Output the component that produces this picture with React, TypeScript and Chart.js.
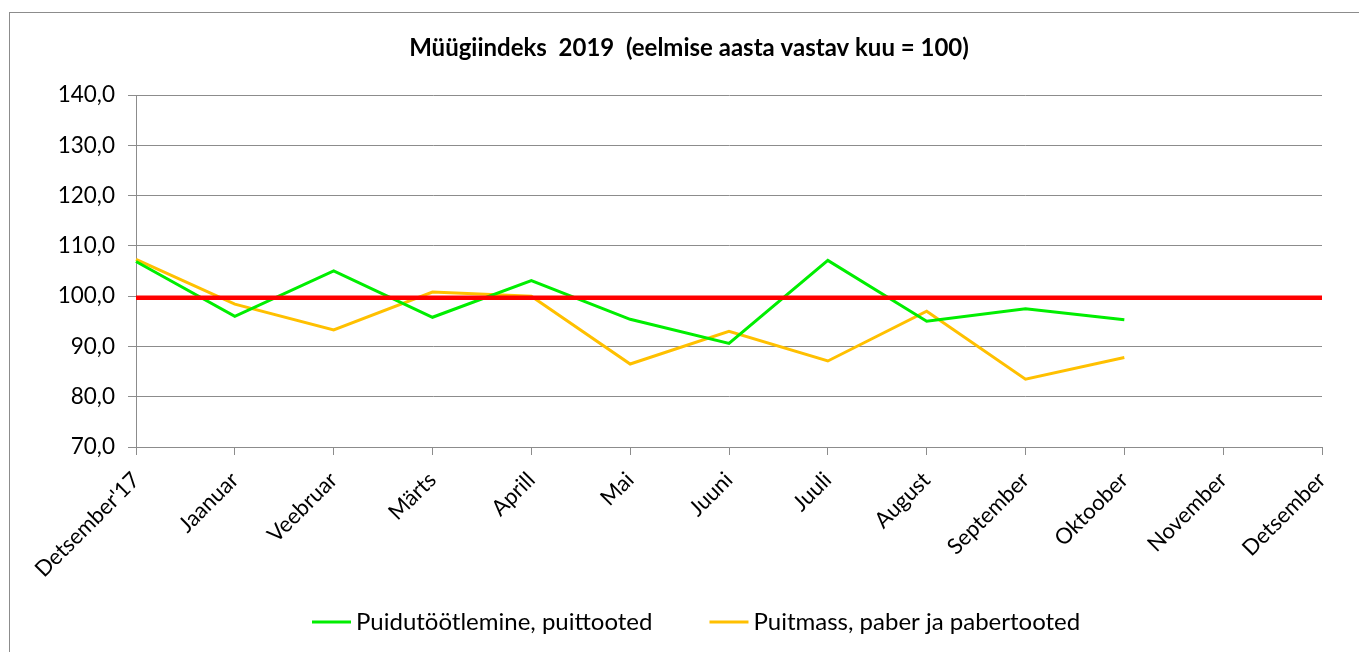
import { useEffect, useRef } from "react";
import { Chart, registerables } from "chart.js";

Chart.register(...registerables);

const TITLE = "Müügiindeks  2019  (eelmise aasta vastav kuu = 100)";
const CATEGORIES = [
  "Detsember'17",
  "Jaanuar",
  "Veebruar",
  "Märts",
  "Aprill",
  "Mai",
  "Juuni",
  "Juuli",
  "August",
  "September",
  "Oktoober",
  "November",
  "Detsember",
];
const LABEL_GREEN = "Puidutöötlemine, puittooted";
const LABEL_ORANGE = "Puitmass, paber ja pabertooted";
const VALUES_GREEN = [106.9, 96.0, 105.0, 95.8, 103.1, 95.4, 90.6, 107.1, 95.0, 97.5, 95.3, null, null];
const VALUES_ORANGE = [107.3, 98.4, 93.3, 100.8, 100.0, 86.5, 93.0, 87.1, 97.0, 83.5, 87.8, null, null];
const VALUES_BASE = [99.7, 99.7, 99.7, 99.7, 99.7, 99.7, 99.7, 99.7, 99.7, 99.7, 99.7, 99.7, 99.7];
const Y_MIN = 70;
const Y_MAX = 140;
const Y_STEP = 10;

const FONT = "Lato";
const GRID = "#8c8c8c";

export default function App() {
  const ref = useRef<HTMLCanvasElement | null>(null);

  useEffect(() => {
    if (!ref.current) return;

    const legendPlugin = {
      id: "customLegend",
      afterDraw(chart: any) {
        const ctx = chart.ctx as CanvasRenderingContext2D;
        ctx.save();
        ctx.font = `24px ${FONT}`;
        ctx.textBaseline = "middle";
        ctx.textAlign = "left";
        let x = 312;
        const y = 622;
        chart.data.datasets.forEach((ds: any) => {
          if (!ds.label) return;
          ctx.strokeStyle = ds.borderColor;
          ctx.lineWidth = 3;
          ctx.beginPath();
          ctx.moveTo(x, y);
          ctx.lineTo(x + 39, y);
          ctx.stroke();
          ctx.fillStyle = "#000";
          ctx.fillText(ds.label, x + 44, y);
          x += 44 + ctx.measureText(ds.label).width + 57;
        });
        ctx.restore();
      },
    };

    const chart = new Chart(ref.current, {
      type: "line",
      data: {
        labels: CATEGORIES,
        datasets: [
          {
            label: "",
            data: VALUES_BASE,
            borderColor: "#ff0000",
            backgroundColor: "#ff0000",
            borderWidth: 4.5,
            pointRadius: 0,
            tension: 0,
          },
          {
            label: LABEL_GREEN,
            data: VALUES_GREEN,
            borderColor: "#00ee00",
            backgroundColor: "#00ee00",
            borderWidth: 3,
            pointRadius: 0,
            tension: 0,
          },
          {
            label: LABEL_ORANGE,
            data: VALUES_ORANGE,
            borderColor: "#ffc000",
            backgroundColor: "#ffc000",
            borderWidth: 3,
            pointRadius: 0,
            tension: 0,
          },
        ],
      },
      options: {
        animation: false,
        responsive: false,
        maintainAspectRatio: false,
        layout: { padding: { left: 19, right: 0, top: 0, bottom: 0 } },
        plugins: {
          legend: { display: false },
          tooltip: { enabled: false },
          title: {
            display: true,
            text: TITLE,
            color: "#000",
            font: { family: FONT, size: 24, weight: "bold" },
            padding: { top: 33.6, bottom: 32.6 },
          },
        },
        scales: {
          x: {
            type: "category",
            offset: false,
            grid: {
              display: true,
              drawOnChartArea: false,
              drawTicks: true,
              tickLength: 8,
              color: GRID,
            },
            border: { display: true, color: GRID },
            ticks: {
              autoSkip: false,
              minRotation: 45,
              maxRotation: 45,
              color: "#000",
              font: { family: FONT, size: 22 },
              padding: 12,
            },
            afterFit(scale: any) {
              scale.height = 205;
              scale.paddingLeft = 0;
              scale.paddingRight = 37;
            },
          },
          y: {
            min: Y_MIN,
            max: Y_MAX,
            grid: {
              color: GRID,
              drawTicks: true,
              tickLength: 8,
            },
            border: { display: true, color: GRID },
            ticks: {
              stepSize: Y_STEP,
              color: "#000",
              font: { family: FONT, size: 22.5 },
              padding: 13,
              callback: (v: any) => Number(v).toFixed(1).replace(".", ","),
            },
            afterFit(scale: any) {
              scale.width = 117;
              scale.paddingTop = 0;
              scale.paddingBottom = 0;
            },
          },
        },
      },
      plugins: [legendPlugin],
    });

    return () => chart.destroy();
  }, []);

  return (
    <div
      style={{
        position: "fixed",
        left: 0,
        top: 0,
        width: 1359,
        height: 652,
        overflow: "hidden",
        background: "#fff",
      }}
    >
      <div
        style={{
          position: "absolute",
          left: 9,
          top: 12,
          width: 1400,
          height: 700,
          border: "1px solid #8c8c8c",
        }}
      />
      <canvas
        ref={ref}
        width={1359}
        height={652}
        style={{ position: "absolute", left: 0, top: 0, width: 1359, height: 652 }}
      />
    </div>
  );
}
